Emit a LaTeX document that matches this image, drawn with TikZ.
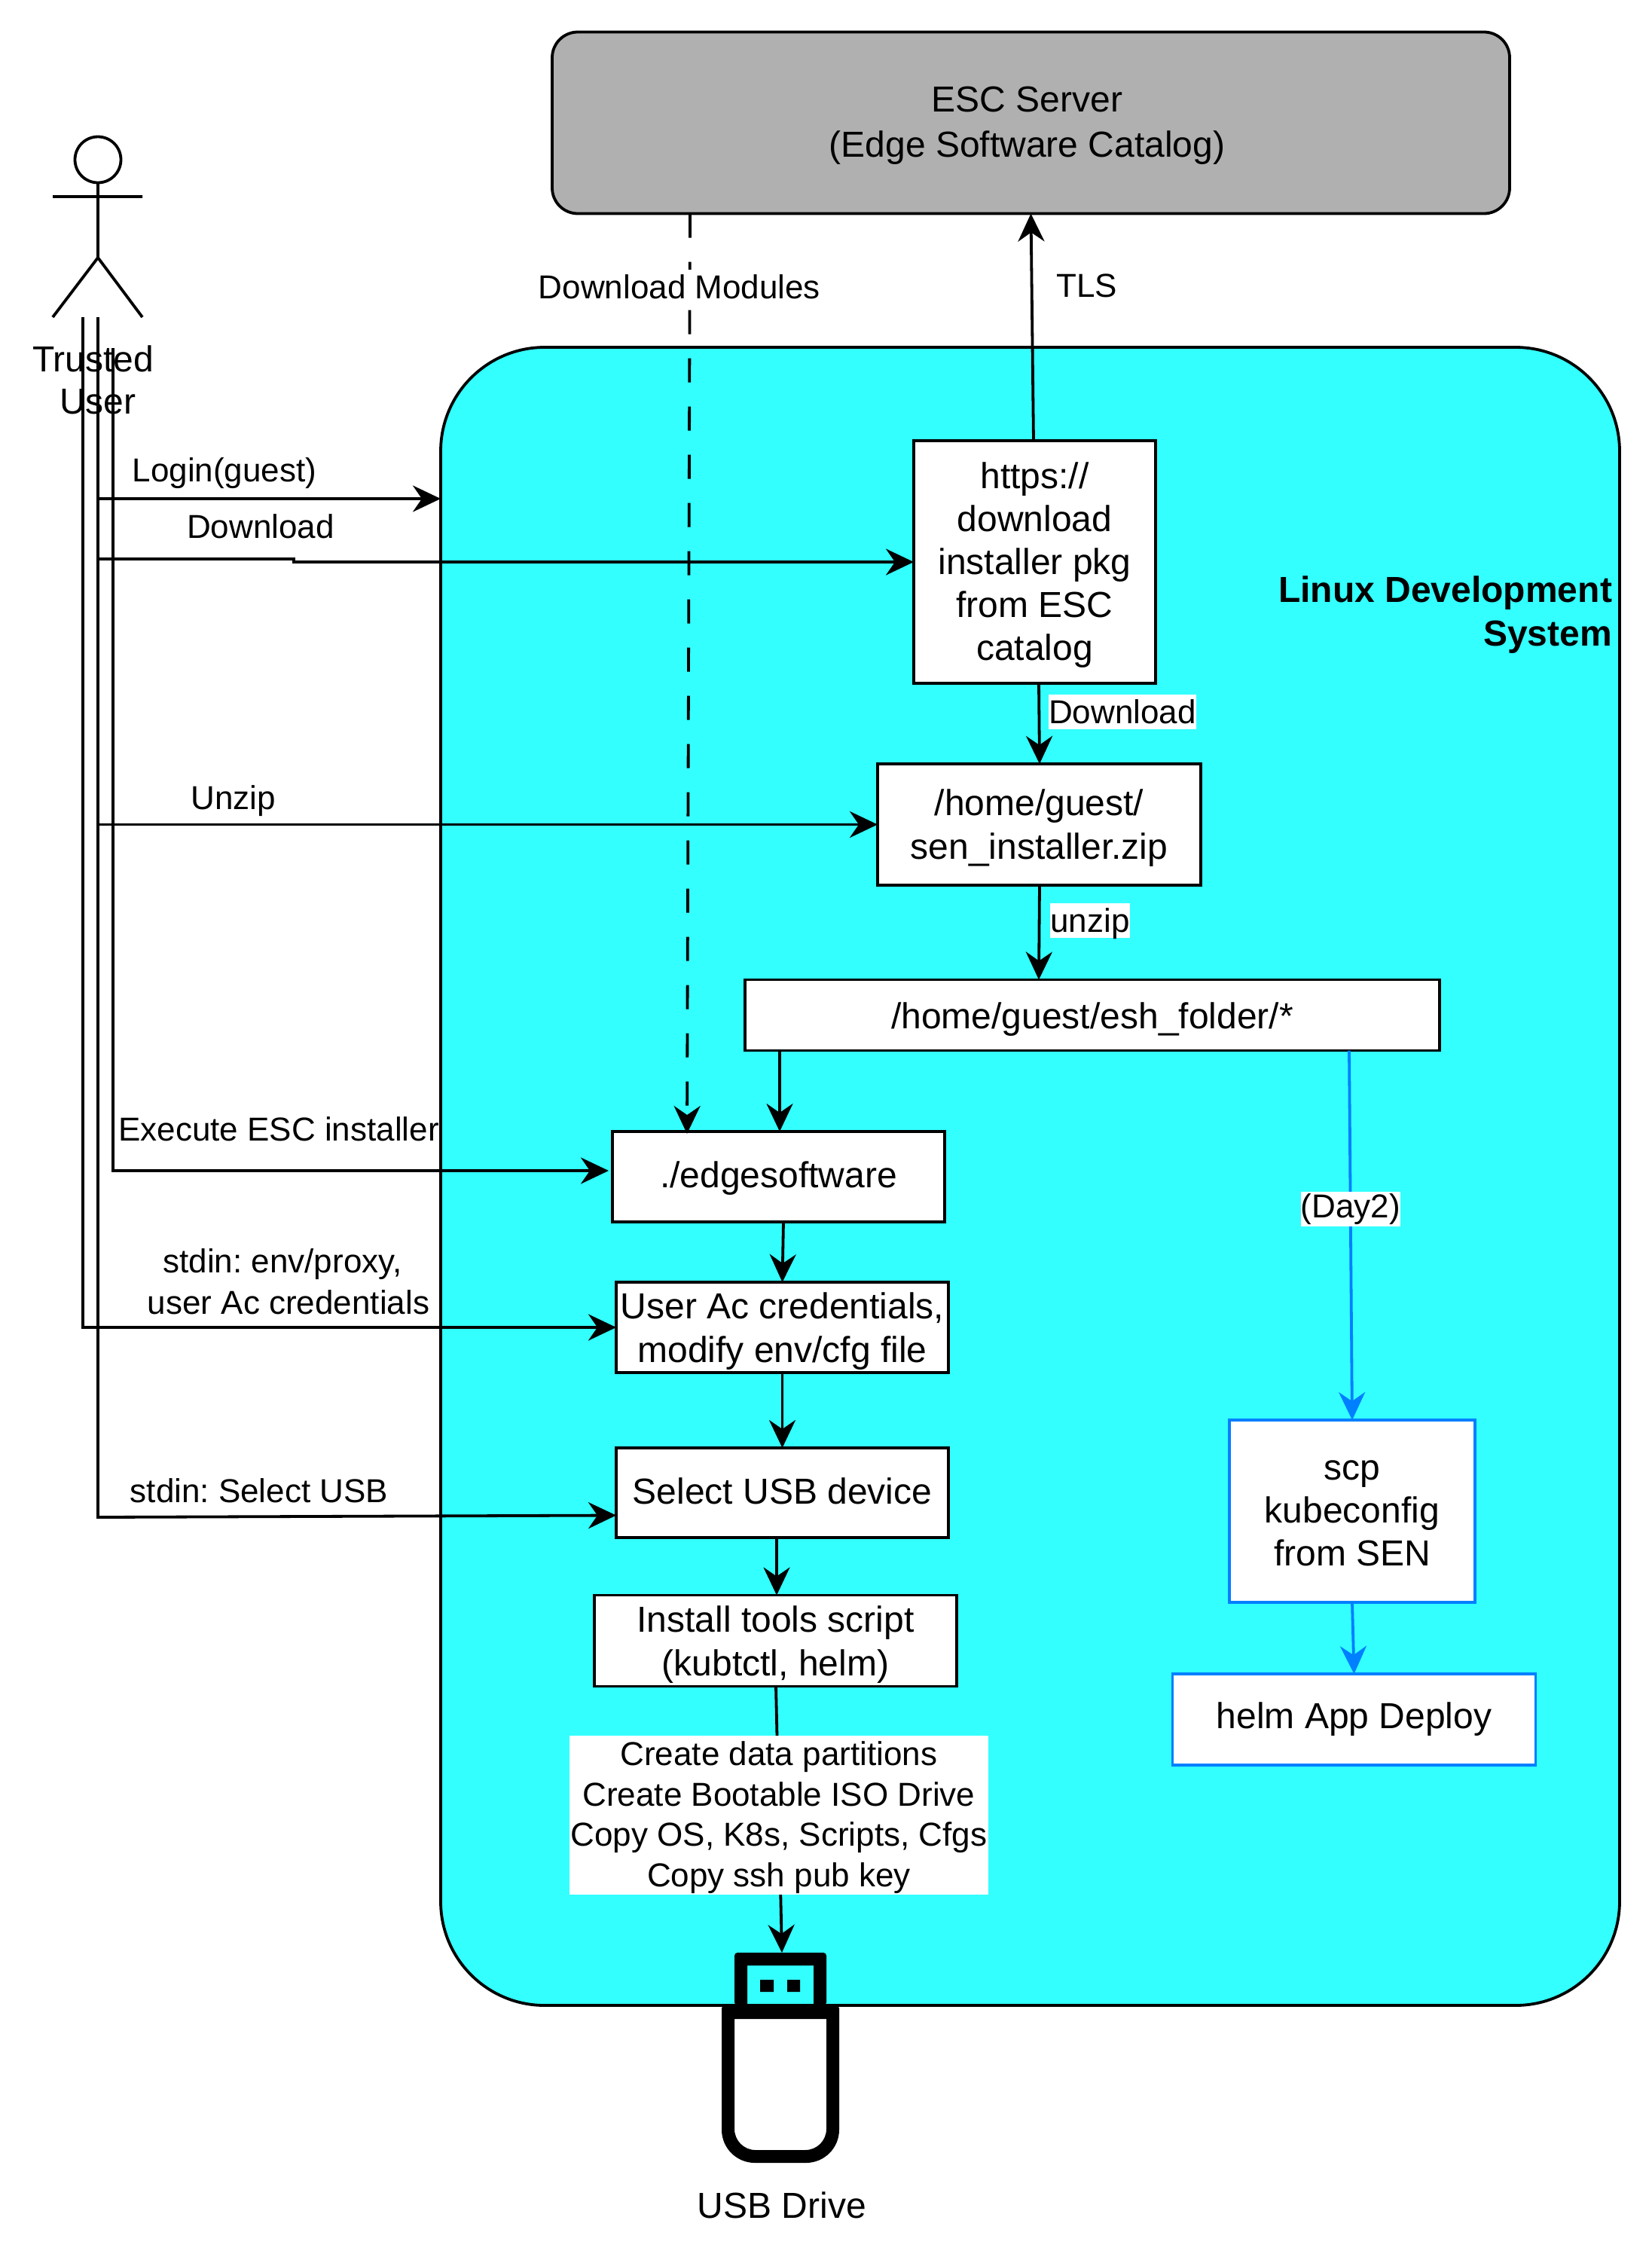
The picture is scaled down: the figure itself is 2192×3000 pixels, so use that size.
\documentclass[tikz,border=0pt]{standalone}
\usepackage{fontspec}
\setmainfont{Liberation Sans}
\frenchspacing
\usetikzlibrary{arrows.meta}
\definecolor{devcyan}{HTML}{33FFFF}
\definecolor{escgray}{HTML}{B0B0B0}
\definecolor{dayblue}{HTML}{007FFF}
\tikzset{
    toptall/.code={\def\nodetop{#1}}, % height above the last line
    struts/.style={execute at begin node=\rule{0pt}{\nodetop}, execute at end node=\rule[-5.5pt]{0pt}{5.5pt}},
    txt/.style={font=\fontsize{24}{29}\selectfont, align=center, inner sep=0pt, outer sep=0pt, struts, toptall=51pt}, % text of the boxes
    procbox/.style={txt, draw=black, fill=white, line width=1.9pt}, % white step box
    daybox/.style={procbox, draw=dayblue}, % day 2 box
    lift/.style={toptall=20pt}, % one line boxes
    note/.style={txt, font=\fontsize{22}{27.5}\selectfont, toptall=20pt}, % label beside a line
    tag/.style={fill=white, font=\fontsize{22}{26}\selectfont, inner sep=0pt, text height=19pt, text depth=4pt}, % label on a line
    flow/.style={line width=1.9pt, -{Stealth[length=18.5pt,width=17.5pt,inset=6pt]}},
    dayflow/.style={flow, draw=dayblue}
}
\begin{document}
\begin{tikzpicture}[x=0.5pt, y=-0.5pt]
    \useasboundingbox (0,0) rectangle (2192,3000);

    \node[procbox, fill=devcyan, minimum width=782.5pt, minimum height=1100.5pt, rounded corners=69pt] (devsys) at (1367.5,1561.5) {};
    \node[procbox, fill=escgray, minimum width=635.5pt, minimum height=120.5pt, rounded corners=17pt] (esc) at (1368.5,163) {\hspace*{-5pt}ESC Server\\[1pt]\hspace*{-5pt}(Edge Software Catalog)};
    \node[txt, toptall=50pt, anchor=east, font=\fontsize{24}{29}\bfseries\selectfont, align=right] (devlabel) at (2140,813) {Linux Development\\System};

    % install flow
    \node[procbox, toptall=136pt, font=\fontsize{24}{28.5}\selectfont, minimum width=160.5pt, minimum height=161pt] (https) at (1373.5,746) {https://\\download\\installer pkg\\from ESC\\catalog};
    \node[procbox, minimum width=214.5pt, minimum height=80.5pt] (senzip) at (1379.5,1094.5) {/home/guest/\\sen\_installer.zip};
    \node[procbox, toptall=23.5pt, minimum width=461pt, minimum height=47pt] (esh) at (1450,1347.5) {/home/guest/esh\_folder/*};
    \node[procbox, lift, minimum width=220.5pt, minimum height=60pt] (edgesw) at (1033.5,1562) {./edgesoftware};
    \node[procbox, toptall=52pt, minimum width=220.5pt, minimum height=60pt] (creds) at (1038.5,1762) {User Ac credentials,\\modify env/cfg file};
    \node[procbox, lift, minimum width=220.5pt, minimum height=59.5pt] (selusb) at (1038.5,1981.5) {Select USB device};
    \node[procbox, toptall=52pt, minimum width=240.5pt, minimum height=60.5pt] (tools) at (1029.5,2178) {Install tools script\\(kubtctl, helm)};
    \node[daybox, toptall=77.5pt, font=\fontsize{24}{28.5}\selectfont, minimum width=163pt, minimum height=121pt] (scp) at (1795,2006) {scp\\kubeconfig\\from SEN};
    \node[daybox, toptall=17.5pt, minimum width=241pt, minimum height=60.5pt] (helm) at (1797.5,2282.5) {helm App Deploy};

    % usb stick
    \coordinate (usbtop) at (1038,2592);
    \fill[black, even odd rule, rounded corners=2pt] (975,2662) -- (975,2592) -- (1097,2592) -- (1097,2662) -- cycle
        [sharp corners] (992,2609) rectangle (1080,2662);
    \fill[black] (1009,2628) rectangle (1027,2644) (1045,2628) rectangle (1062,2644);
    \fill[black, even odd rule, rounded corners=2pt] (1036,2662) -- (958,2662) [rounded corners=22pt] -- (958,2871) -- (1114,2871) [rounded corners=2pt] -- (1114,2662) -- cycle
        [sharp corners] (975,2680) [rounded corners=14pt] -- (975,2854) -- (1097,2854) [sharp corners] -- (1097,2680) -- cycle;
    \node[txt, toptall=22.5pt] (usblabel) at (1038,2927) {USB Drive};

    % trusted user
    \draw[line width=1.9pt] (130,212) circle[x radius=30.5, y radius=30.5];
    \draw[line width=1.9pt] (130,242) -- (130,342) (70,261) -- (189,261) (70,421) -- (130,342) -- (189,421);
    \node[txt, toptall=49pt, font=\fontsize{24}{28}\selectfont] (user) at (130,506) {Trusted\kern6.5pt\\User};
    \coordinate (railin) at (110,421);
    \coordinate (railmid) at (130,421);
    \coordinate (railout) at (150,462);

    \coordinate (loginend) at (585,662);
    \coordinate (dlstart) at (130,742);
    \coordinate (selbend) at (130,2014);
    \draw[flow] (loginend -| railmid) -- (loginend);
    \draw[flow] (railmid) -- (dlstart) -- ++(260,0) -- ++(0,4) -- (https.west);
    \draw[flow] (railmid) |- (senzip.west);
    \draw[flow] (railout) |- ([xshift=-2.5pt, yshift=4pt]edgesw.west);
    \draw[flow] (railin) |- (creds.west);
    \draw[flow] (railmid) -- (selbend) -- ([yshift=-15pt]selusb.west);
    \node[note] (loginlabel) at (298,625) {Login(guest)};
    \node[note] (dllabel) at (346,700) {Download};
    \node[note] (unziplabel) at (310,1060) {Unzip};
    \node[note] (execlabel) at (370,1500) {Execute ESC installer};
    \node[note] (stdinenv) at (383,1707) {\hspace*{-8pt}stdin: env/proxy,\\user Ac credentials};
    \node[note] (stdinusb) at (344,1980) {stdin: Select USB};

    % arrows inside
    \draw[flow] ([xshift=-.75pt]https.north) -- (esc.south) node[note, pos=.68, xshift=36.5pt] (tlslabel) {TLS};
    \draw[flow, dash pattern=on 16pt off 16pt] ([xshift=-226.25pt]esc.south) -- ([xshift=-60.75pt, yshift=-1.5pt]edgesw.north);
    \node[tag] (modlabel) at (902,381) {Download Modules};
    \draw[flow] ([xshift=2.75pt]https.south) -- ([xshift=.25pt]senzip.north);
    \node[tag] (dlwhite) at (1490,945) {Download};
    \draw[flow] ([xshift=.25pt]senzip.south) -- ([xshift=-35.5pt]esh.north);
    \node[tag] (unzipwhite) at (1447,1222) {unzip};
    \draw[flow] ([xshift=-207.5pt]esh.south) -- ([xshift=.75pt]edgesw.north);
    \draw[flow] ([xshift=3.25pt]edgesw.south) -- (creds.north);
    \draw[flow] (creds) -- (selusb);
    \draw[flow] ([xshift=-3.75pt]selusb.south) -- ([xshift=.75pt]tools.north);
    \draw[flow] ([xshift=.25pt]tools.south) -- (usbtop) node[tag, pos=.485, align=center, text height=, text depth=, minimum width=278pt, minimum height=105.5pt, font=\fontsize{22}{26.75}\selectfont, struts, toptall=100pt] (toolnote) {Create data partitions\\Create Bootable ISO Drive\\Copy OS, K8s, Scripts, Cfgs\\Copy ssh pub key};
    \draw[dayflow] ([xshift=170.5pt]esh.south) -- (scp.north) node[tag, pos=.43, text height=17pt, text depth=6pt] (daylabel) {(Day2)};
    \draw[dayflow] (scp.south) -- (helm.north);
\end{tikzpicture}
\end{document}
